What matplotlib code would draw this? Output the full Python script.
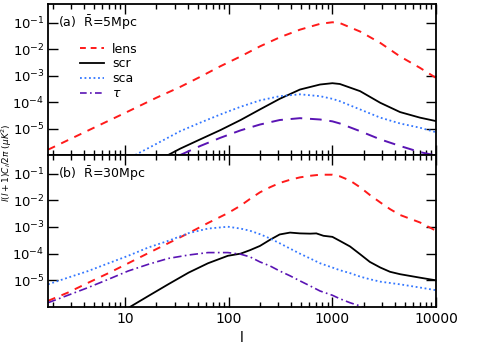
import numpy as np
import matplotlib
matplotlib.use('Agg')
import matplotlib.pyplot as plt
from matplotlib.lines import Line2D

plt.rcParams['font.family'] = ['DejaVu Sans']
plt.rcParams['mathtext.fontset'] = 'dejavusans'

# values are log10 of the power, read off the reference
# panel (a): R = 5 Mpc
l_lens_a = [1.8, 5, 10, 20, 34, 53, 83, 130, 200, 310, 486, 760, 1000, 1180, 1850, 2900, 4500, 7000, 10000]
lens_a = [-5.8, -4.97, -4.41, -3.84, -3.43, -3.05, -2.65, -2.28, -1.9, -1.56, -1.27, -1.05, -0.99, -1.02, -1.34, -1.77, -2.28, -2.71, -3.09]

l_scr_a = [26, 34, 53, 83, 130, 200, 310, 486, 760, 1000, 1180, 1850, 2900, 4500, 7000, 10000]
scr_a = [-6.0, -5.76, -5.41, -5.06, -4.68, -4.28, -3.88, -3.53, -3.34, -3.29, -3.32, -3.59, -4.03, -4.38, -4.59, -4.72]

l_sca_a = [12.5, 20, 34, 53, 83, 130, 200, 310, 486, 760, 1000, 1180, 1850, 2900, 4500, 7000, 10000]
sca_a = [-6.0, -5.58, -5.1, -4.78, -4.47, -4.18, -3.94, -3.78, -3.71, -3.78, -3.88, -3.97, -4.28, -4.59, -4.81, -4.97, -5.14]

l_tau_a = [34, 53, 83, 130, 200, 310, 486, 760, 1000, 1180, 1850, 2900, 4500, 7000, 10000]
tau_a = [-6.0, -5.66, -5.35, -5.07, -4.85, -4.68, -4.61, -4.66, -4.73, -4.81, -5.1, -5.41, -5.66, -5.89, -6.02]

# panel (b): R = 30 Mpc
l_lens_b = [1.8, 2.8, 4.4, 6.9, 10.7, 16.7, 26, 41, 63, 98, 130, 160, 200, 250, 310, 390, 486, 610, 760, 1000,
            1180, 1480, 1850, 2300, 2900, 3600, 4500, 7000, 10000]
lens_b = [-5.77, -5.46, -5.09, -4.73, -4.36, -3.98, -3.61, -3.23, -2.85, -2.48, -2.2, -1.95, -1.7, -1.51, -1.35, -1.23,
          -1.14, -1.08, -1.04, -1.04, -1.1, -1.26, -1.51, -1.8, -2.08, -2.33, -2.55, -2.83, -3.14]

l_scr_b = [11.1, 16.7, 26, 41, 63, 98, 130, 160, 200, 250, 310, 390, 486, 610, 700, 820, 1000, 1180, 1480, 1850,
           2300, 2900, 3600, 4500, 7000, 10000]
scr_b = [-6.0, -5.59, -5.15, -4.71, -4.36, -4.08, -4.0, -3.87, -3.71, -3.48, -3.28, -3.21, -3.24, -3.25, -3.24,
         -3.33, -3.37, -3.52, -3.73, -4.02, -4.31, -4.52, -4.68, -4.77, -4.9, -5.0]

l_sca_b = [1.8, 2.8, 4.4, 6.9, 10.7, 16.7, 26, 41, 63, 98, 130, 160, 200, 250, 310, 390, 486, 610, 760, 1000,
           1180, 1480, 1850, 2300, 2900, 4500, 7000, 10000]
sca_b = [-5.15, -4.9, -4.65, -4.36, -4.08, -3.77, -3.52, -3.23, -3.06, -2.99, -3.06, -3.14, -3.27, -3.43, -3.61,
         -3.81, -4.0, -4.18, -4.36, -4.52, -4.62, -4.73, -4.86, -4.96, -5.05, -5.15, -5.27, -5.37]

l_tau_b = [1.8, 2.8, 4.4, 6.9, 10.7, 16.7, 26, 41, 63, 98, 130, 160, 200, 250, 310, 390, 486, 610, 760, 1000,
           1180, 1480, 1850, 2100]
tau_b = [-5.84, -5.56, -5.27, -4.96, -4.65, -4.4, -4.18, -4.05, -3.96, -3.96, -4.02, -4.12, -4.31, -4.46, -4.65,
         -4.83, -5.02, -5.21, -5.4, -5.56, -5.69, -5.84, -5.96, -6.05]

panel_text = [r'(a)  $\bar{\rm R}$=5Mpc', r'(b)  $\bar{\rm R}$=30Mpc']
ytick_vals = [1e-5, 1e-4, 1e-3, 1e-2, 1e-1]
ytick_labels = [r'$10^{-5}$', r'$10^{-4}$', r'$10^{-3}$', r'$10^{-2}$', r'$10^{-1}$']
xtick_vals = [10, 100, 1000, 10000]
xtick_labels = ['10', '100', '1000', '10000']

red = '#ff1a1a'
blue = '#3377ff'
purple = '#5a14b4'

fig = plt.figure(figsize=(4.85, 3.46), dpi=100)
ax1 = fig.add_axes([48/485, 1 - 155/346, 388/485, 151/346])
ax2 = fig.add_axes([48/485, 1 - 307/346, 388/485, 152/346])

def p(v):
    return 10**np.array(v)

ax1.plot(l_lens_a, p(lens_a), color=red, lw=1.4, dashes=(4, 3.5))
ax1.plot(l_scr_a, p(scr_a), color='black', lw=1.3)
ax1.plot(l_sca_a, p(sca_a), color=blue, lw=1.3, dashes=(1, 1.5))
ax1.plot(l_tau_a, p(tau_a), color=purple, lw=1.4, dashes=(6, 4))

ax2.plot(l_lens_b, p(lens_b), color=red, lw=1.4, dashes=(4, 3.5))
ax2.plot(l_scr_b, p(scr_b), color='black', lw=1.3)
ax2.plot(l_sca_b, p(sca_b), color=blue, lw=1.3, dashes=(1, 1.5))
ax2.plot(l_tau_b, p(tau_b), color=purple, lw=1.2, dashes=(5, 2, 1, 2))

for ax, txt in zip([ax1, ax2], panel_text):
    ax.set_xscale('log')
    ax.set_yscale('log')
    ax.set_xlim(1.8, 10000)
    ax.set_ylim(1e-6, 0.5)
    ax.set_yticks(ytick_vals)
    ax.set_yticklabels(ytick_labels, fontsize=9.5)
    ax.yaxis.set_minor_locator(matplotlib.ticker.NullLocator())
    ax.tick_params(which='both', direction='in', top=True, right=True, width=1)
    ax.tick_params(which='major', length=7)
    ax.tick_params(which='minor', length=3.5)
    ax.tick_params(axis='y', pad=2.5)
    for s in ax.spines.values():
        s.set_linewidth(1.3)
    ax.text(0.025, 0.875, txt, transform=ax.transAxes, fontsize=9, va='center')

ax1.set_xticks(xtick_vals)
ax1.tick_params(axis='x', labelbottom=False)
ax2.set_xticks(xtick_vals)
ax2.set_xticklabels(xtick_labels, fontsize=10)

handles = [Line2D([], [], color=red, lw=1.4, dashes=(3, 2.5)),
           Line2D([], [], color='black', lw=1.3),
           Line2D([], [], color=blue, lw=1.3, dashes=(1, 1.5)),
           Line2D([], [], color=purple, lw=1.2, dashes=(4, 2, 1, 2))]
ax1.legend(handles, ['lens', 'scr', 'sca', r'$\tau$'], loc='upper left',
           bbox_to_anchor=(0.07, 0.778), frameon=False, fontsize=9,
           handlelength=1.9, handletextpad=0.65, labelspacing=0.15,
           borderaxespad=0)

fig.text(0.0, 0.53, r'$l(l+1)C_l/2\pi\ (\mu K^2)$', rotation=90,
         ha='left', va='center', fontsize=6.5)
fig.text(242/485, 0.003, 'l', ha='center', va='bottom', fontsize=10)

fig.savefig('out.png', dpi=100)
